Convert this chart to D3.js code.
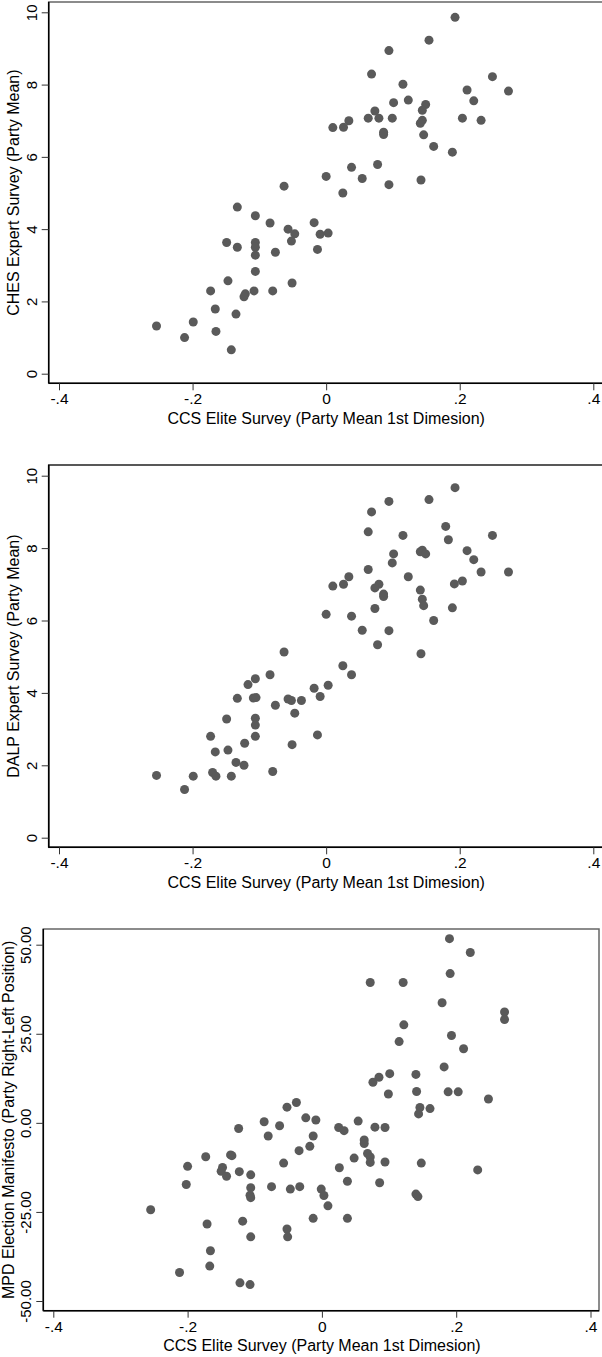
<!DOCTYPE html>
<html>
<head>
<meta charset="utf-8">
<script src="https://cdn.jsdelivr.net/npm/d3@7"></script>
<style>
  html, body { margin: 0; padding: 0; background: #fff; }
  svg { display: block; }
  text { font-family: "Liberation Sans", Arial, Helvetica, sans-serif; fill: #000; }
</style>
</head>
<body>
<svg id="chart" width="602" height="1357"></svg>
<script>
// Shared x axis: CCS elite survey, party mean on the 1st dimension
const xTicks = [-0.4, -0.2, 0, 0.2, 0.4];
const xTickLabels = ["-.4", "-.2", "0", ".2", ".4"];
const xTitle = "CCS Elite Survey (Party Mean 1st Dimesion)";

// Panel 1: CHES expert survey
const chesTicks = [0, 2, 4, 6, 8, 10];
const chesTickLabels = ["0", "2", "4", "6", "8", "10"];
const chesTitle = "CHES Expert Survey (Party Mean)";
const chesX = [0.193, 0.154, 0.094, 0.068, 0.115, 0.249, 0.211, 0.273, 0.123, 0.221,
  0.101, 0.149, 0.144, 0.073, 0.063, 0.079, 0.099, 0.204, 0.034, 0.232,
  0.144, 0.141, 0.010, 0.026, 0.086, 0.086, 0.146, 0.161, 0.189, 0.077,
  0.038, 0.000, 0.054, 0.142, -0.063, 0.094, 0.025, -0.133, -0.106, -0.084,
  -0.018, -0.057, -0.047, -0.009, 0.003, -0.149, -0.106, -0.052, -0.133, -0.106,
  -0.013, -0.076, -0.106, -0.106, -0.147, -0.051, -0.173, -0.108, -0.080, -0.121,
  -0.123, -0.166, -0.135, -0.199, -0.254, -0.165, -0.212, -0.142];
const chesY = [9.86, 9.23, 8.94, 8.29, 8.01, 8.22, 7.85, 7.82, 7.57, 7.55,
  7.50, 7.45, 7.29, 7.27, 7.07, 7.07, 7.07, 7.07, 7.00, 7.01,
  7.01, 6.93, 6.81, 6.82, 6.68, 6.62, 6.61, 6.29, 6.13, 5.79,
  5.71, 5.46, 5.40, 5.36, 5.19, 5.23, 5.00, 4.61, 4.37, 4.17,
  4.18, 4.00, 3.87, 3.86, 3.89, 3.63, 3.63, 3.67, 3.50, 3.50,
  3.44, 3.36, 3.28, 2.83, 2.57, 2.51, 2.29, 2.29, 2.29, 2.21,
  2.13, 1.79, 1.65, 1.43, 1.32, 1.17, 1.00, 0.66];

// Panel 2: DALP expert survey
const dalpTicks = [0, 2, 4, 6, 8, 10];
const dalpTickLabels = ["0", "2", "4", "6", "8", "10"];
const dalpTitle = "DALP Expert Survey (Party Mean)";
const dalpX = [0.193, 0.154, 0.094, 0.068, 0.063, 0.179, 0.115, 0.249, 0.183, 0.211,
  0.141, 0.144, 0.149, 0.101, 0.221, 0.099, 0.063, 0.232, 0.273, 0.034,
  0.123, 0.204, 0.192, 0.010, 0.026, 0.079, 0.073, 0.141, 0.086, 0.086,
  0.144, 0.146, 0.189, 0.073, 0.000, 0.038, 0.161, 0.054, 0.094, 0.077,
  0.142, -0.063, 0.025, 0.038, -0.084, -0.117, -0.106, 0.003, -0.018, -0.009,
  -0.133, -0.109, -0.105, -0.057, -0.052, -0.037, -0.076, -0.047, -0.149, -0.106,
  -0.106, -0.013, -0.173, -0.106, -0.122, -0.051, -0.147, -0.166, -0.135, -0.123,
  -0.080, -0.170, -0.165, -0.142, -0.199, -0.254, -0.212];
const dalpY = [9.67, 9.34, 9.29, 9.00, 8.45, 8.60, 8.35, 8.35, 8.23, 7.93,
  7.90, 7.94, 7.84, 7.84, 7.68, 7.59, 7.41, 7.34, 7.34, 7.21,
  7.21, 7.09, 7.01, 6.95, 7.00, 7.00, 6.90, 6.84, 6.73, 6.66,
  6.59, 6.41, 6.35, 6.33, 6.17, 6.12, 6.00, 5.73, 5.72, 5.33,
  5.08, 5.13, 4.75, 4.50, 4.50, 4.23, 4.39, 4.21, 4.13, 3.90,
  3.85, 3.86, 3.87, 3.83, 3.79, 3.79, 3.66, 3.44, 3.28, 3.30,
  3.11, 2.84, 2.80, 2.80, 2.61, 2.57, 2.42, 2.37, 2.08, 2.00,
  1.83, 1.80, 1.70, 1.70, 1.70, 1.72, 1.33];

// Panel 3: MPD election manifesto
const mpdTicks = [-50, -25, 0, 25, 50];
const mpdTickLabels = ["-50.00", "-25.00", "0.00", "25.00", "50.00"];
const mpdTitle = "MPD Election Manifesto (Party Right-Left Position)";
const mpdX = [0.190, 0.221, 0.191, 0.072, 0.121, 0.179, 0.272, 0.272, 0.122, 0.193,
  0.115, 0.211, 0.182, 0.101, 0.140, 0.085, 0.076, 0.141, 0.188, 0.203,
  0.099, 0.248, -0.038, -0.052, 0.146, 0.161, 0.144, -0.024, -0.009, -0.086,
  0.054, -0.063, 0.025, 0.033, 0.079, 0.094, -0.124, -0.080, -0.013, 0.063,
  0.063, -0.018, -0.034, 0.068, 0.072, -0.173, -0.136, -0.134, 0.048, -0.057,
  0.072, 0.094, 0.148, -0.200, -0.148, -0.150, -0.123, 0.026, 0.232, -0.142,
  -0.106, 0.038, 0.086, -0.202, -0.075, -0.033, -0.106, -0.047, -0.001, 0.003,
  -0.107, -0.106, 0.140, 0.143, 0.009, -0.255, -0.013, 0.038, -0.118, -0.171,
  -0.052, -0.106, -0.051, -0.166, -0.167, -0.212, -0.122, -0.107];
const mpdY = [51.7, 47.8, 41.9, 39.4, 39.4, 33.7, 31.1, 29.0, 27.5, 24.5,
  22.8, 20.8, 15.7, 13.8, 13.6, 12.8, 11.4, 8.8, 8.7, 8.7,
  8.1, 6.7, 5.7, 4.4, 4.3, 4.0, 2.5, 1.4, 0.8, 0.3,
  0.5, -0.8, -1.3, -2.2, -1.2, -1.3, -1.6, -3.7, -3.7, -4.8,
  -5.8, -6.6, -7.8, -8.6, -9.6, -9.5, -9.0, -9.2, -9.9, -11.3,
  -11.1, -11.0, -11.3, -12.2, -12.5, -13.6, -13.7, -12.6, -13.2, -15.0,
  -14.6, -16.4, -16.8, -17.3, -17.9, -17.9, -18.2, -18.6, -18.6, -20.4,
  -20.3, -21.0, -20.0, -20.7, -23.3, -24.4, -26.8, -26.8, -27.6, -28.4,
  -29.8, -32.0, -32.0, -35.9, -40.2, -42.0, -44.9, -45.4];

const svg = d3.select("#chart");
const markColor = "#5a5a5a";

// Draws one scatter panel with a left/bottom axis frame
function drawPanel(p) {
  const g = svg.append("g");
  const x = d3.scaleLinear().domain([-0.4, 0.4]).range([p.x0, p.x1]);
  const y = d3.scaleLinear().domain(p.yDomain).range([p.y0, p.y1]);

  // plot region outline (top / right)
  g.append("rect")
    .attr("x", p.left).attr("y", p.top)
    .attr("width", p.right - p.left).attr("height", p.bottom - p.top)
    .attr("fill", "none").attr("stroke", p.outline).attr("stroke-width", 1.5);

  // points
  g.append("g").selectAll("circle")
    .data(p.xs.map((v, i) => [v, p.ys[i]]))
    .join("circle")
    .attr("cx", d => x(d[0]))
    .attr("cy", d => y(d[1]))
    .attr("r", 4.5)
    .attr("fill", markColor);

  // bottom axis
  const xAxis = d3.axisBottom(x).tickValues(xTicks)
    .tickFormat((d, i) => xTickLabels[i]).tickSize(7).tickPadding(3);
  const gx = g.append("g").attr("transform", `translate(0,${p.bottom})`).call(xAxis);
  gx.select(".domain").attr("d", `M${p.left},0H${p.right}`).attr("stroke", "#000").attr("stroke-width", 1.5);
  gx.selectAll(".tick line").attr("stroke", "#333").attr("stroke-width", 1);
  gx.selectAll(".tick text").attr("font-size", 15.5)
    .attr("font-family", "Liberation Sans, Arial, sans-serif").attr("fill", "#000");

  // left axis with rotated tick labels
  const yAxis = d3.axisLeft(y).tickValues(p.yTicks)
    .tickFormat((d, i) => p.yTickLabels[i]).tickSize(7);
  const gy = g.append("g").attr("transform", `translate(${p.left},0)`).call(yAxis);
  gy.select(".domain").attr("d", `M0,${p.top}V${p.bottom}`).attr("stroke", "#000").attr("stroke-width", 1.5);
  gy.selectAll(".tick line").attr("stroke", "#333").attr("stroke-width", 1);
  gy.selectAll(".tick text")
    .attr("x", null).attr("dy", null)
    .attr("text-anchor", "middle")
    .attr("dominant-baseline", "central")
    .attr("transform", `translate(${-p.yLabelGap},0) rotate(-90)`)
    .attr("font-size", 15)
    .attr("font-family", "Liberation Sans, Arial, sans-serif").attr("fill", "#000");

  // axis titles
  g.append("text")
    .attr("x", (p.x0 + p.x1) / 2).attr("y", p.bottom + 35)
    .attr("text-anchor", "middle").attr("dominant-baseline", "central")
    .attr("font-size", 16)
    .text(xTitle);
  g.append("text")
    .attr("transform", `translate(${p.yTitleX},${(p.top + p.bottom) / 2}) rotate(-90)`)
    .attr("text-anchor", "middle").attr("dominant-baseline", "central")
    .attr("font-size", 16)
    .text(p.yTitle);
}

drawPanel({
  xs: chesX, ys: chesY, yDomain: [0, 10], yTicks: chesTicks, yTickLabels: chesTickLabels, yTitle: chesTitle,
  left: 48.7, right: 612, top: 2, bottom: 383.3,
  x0: 59, x1: 593.3, y0: 373.7, y1: 12.3,
  yLabelGap: 17, yTitleX: 13.5, outline: "#666"
});

drawPanel({
  xs: dalpX, ys: dalpY, yDomain: [0, 10], yTicks: dalpTicks, yTickLabels: dalpTickLabels, yTitle: dalpTitle,
  left: 48.7, right: 612, top: 465, bottom: 847.3,
  x0: 59, x1: 593.3, y0: 837.7, y1: 475.7,
  yLabelGap: 17, yTitleX: 13.5, outline: "#222"
});

drawPanel({
  xs: mpdX, ys: mpdY, yDomain: [-50, 50], yTicks: mpdTicks, yTickLabels: mpdTickLabels, yTitle: mpdTitle,
  left: 43.3, right: 599, top: 929, bottom: 1310.7,
  x0: 53.3, x1: 590.5, y0: 1301, y1: 944.7,
  yLabelGap: 17.6, yTitleX: 8.5, outline: "#666"
});
</script>
</body>
</html>
